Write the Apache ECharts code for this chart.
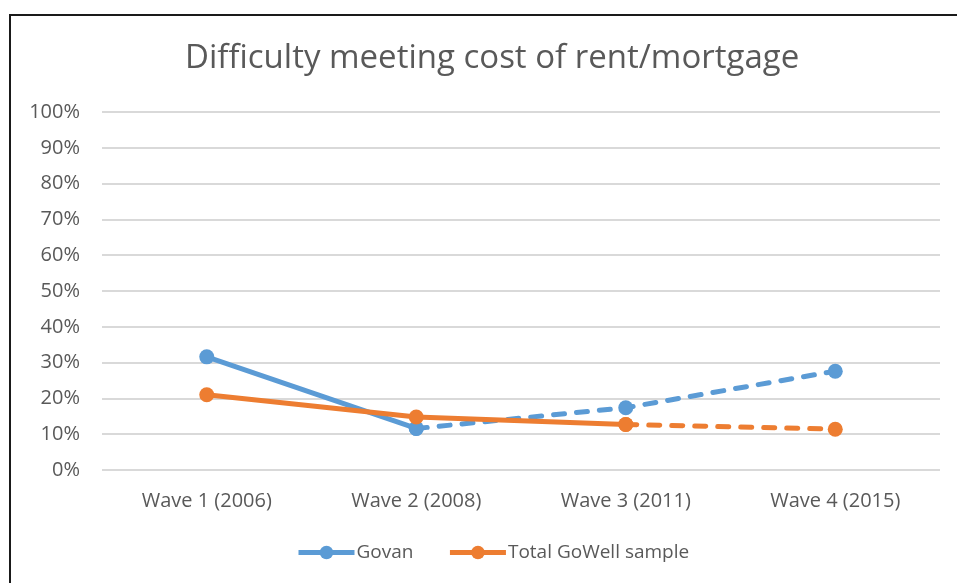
<!DOCTYPE html>
<html>
<head>
<meta charset="utf-8">
<script src="https://cdn.jsdelivr.net/npm/echarts@6/dist/echarts.min.js"></script>
<style>
  html, body { margin: 0; padding: 0; background: #fff; }
  #frame {
    position: absolute; left: 9px; top: 14px; width: 1000px; height: 700px;
    border-left: 2px solid #1a1a1a; border-top: 2px solid #1a1a1a;
  }
  #chart { position: absolute; left: 0; top: 0; width: 957px; height: 583px; }
</style>
</head>
<body>
<div id="frame"></div>
<div id="chart"></div>
<script>
const categories = ["Wave 1 (2006)", "Wave 2 (2008)", "Wave 3 (2011)", "Wave 4 (2015)"];
const govan = [31.6, 11.6, 17.4, 27.6];
const totalGoWell = [21.0, 14.8, 12.7, 11.4];
// index where each series switches from solid to dashed
const govanDashFrom = 1;
const totalDashFrom = 2;

const BLUE = "#5b9bd5";
const ORANGE = "#ed7d31";
const GREY = "#595959";

function solidPart(values, from) {
  return values.map((v, i) => (i <= from ? v : "-"));
}
function dashedPart(values, from) {
  return values.map((v, i) => (i >= from ? v : "-"));
}

function lineSeries(name, color, data, dashed) {
  return {
    name,
    type: "line",
    data,
    symbol: "circle",
    symbolSize: 15,
    itemStyle: { color },
    lineStyle: {
      color,
      width: 5,
      type: dashed ? [11, 12] : "solid",
      cap: dashed ? "round" : "butt",
    },
    z: dashed ? 2 : 3,
    emphasis: { disabled: true },
  };
}

const chart = echarts.init(document.getElementById("chart"));
chart.setOption({
  animation: false,
  textStyle: { fontFamily: "Open Sans, sans-serif" },
  title: {
    text: "Difficulty meeting cost of rent/mortgage",
    left: 180,
    top: 37,
    textStyle: { color: GREY, fontSize: 33, fontWeight: "normal", fontFamily: "Open Sans, sans-serif" },
  },
  legend: {
    bottom: 16,
    left: 291,
    itemWidth: 56,
    itemHeight: 17,
    itemGap: 34,
    data: ["Govan", "Total GoWell sample"],
    lineStyle: { type: "solid", width: 5 },
    textStyle: { color: GREY, fontSize: 19, padding: [0, 0, 0, -3] },
  },
  grid: { left: 102, right: 17, top: 112, bottom: 113 },
  xAxis: {
    type: "category",
    data: categories,
    boundaryGap: true,
    axisLine: { show: false },
    axisTick: { show: false },
    axisLabel: { color: GREY, fontSize: 20, margin: 21 },
  },
  yAxis: {
    type: "value",
    min: 0,
    max: 100,
    interval: 10,
    axisLabel: { color: GREY, fontSize: 20, margin: 22, formatter: "{value}%" },
    splitLine: { lineStyle: { color: "#d9d9d9", width: 2 } },
    axisLine: { show: false },
    axisTick: { show: false },
  },
  series: [
    lineSeries("Govan", BLUE, solidPart(govan, govanDashFrom), false),
    lineSeries("Total GoWell sample", ORANGE, solidPart(totalGoWell, totalDashFrom), false),
    lineSeries("Govan", BLUE, dashedPart(govan, govanDashFrom), true),
    lineSeries("Total GoWell sample", ORANGE, dashedPart(totalGoWell, totalDashFrom), true),
  ],
});
</script>
</body>
</html>
